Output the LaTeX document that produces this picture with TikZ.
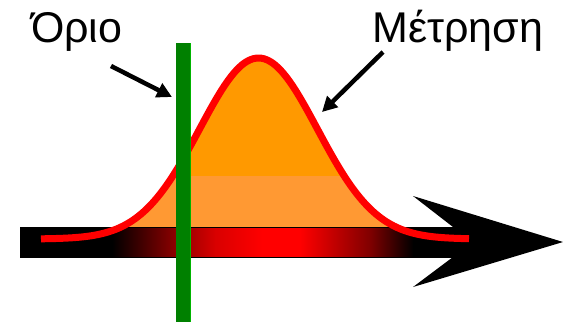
\documentclass[tikz,border=0pt]{standalone}
\usepackage{fontspec}
\setmainfont{Liberation Sans}
\usetikzlibrary{arrows.meta}
\definecolor{orangeHi}{RGB}{255,153,0}
\definecolor{orangeLo}{RGB}{255,153,51}
\definecolor{barGreen}{RGB}{0,128,0}
\tikzset{
  lbl/.style={font=\fontsize{43}{50}\selectfont, inner sep=0pt, anchor=base west},
  pointer/.style={line width=4.5pt, -{Triangle[length=15pt,width=15pt]}},
  gausscurve/.style={red, line width=7pt, line join=round},
  seg/.style={draw=none}
}
\newcommand{\gausspath}{plot[domain=41:469, samples=120, smooth] (\x, {239-181*exp(-((\x-258.5)/59)^2/2)})}
\begin{document}
\begin{tikzpicture}[x=1pt, y=-1pt]
\useasboundingbox (0,0) rectangle (563,322);
% orange fill under curve
\begin{scope}
  \clip (0,0) rectangle (563,227);
  \fill[orangeLo] \gausspath -- cycle;
  \clip (0,0) rectangle (563,175);
  \fill[orangeHi] \gausspath -- cycle;
\end{scope}
% shaft with shading
\fill[black] (20,227) rectangle (112.3,257);
\shade[seg, left color=black, right color=red!55!black] (112,227) rectangle (175.3,257);
\shade[seg, left color=red!55!black, right color=red!85!black] (175,227) rectangle (215.3,257);
\shade[seg, left color=red!85!black, right color=red] (215,227) rectangle (262.3,257);
\fill[red] (262,227) rectangle (300.3,257);
\shade[seg, left color=red, right color=red!50!black] (300,227) rectangle (370.3,257);
\shade[seg, left color=red!50!black, right color=black] (370,227) rectangle (413.3,257);
\fill[black] (413,227) rectangle (453,257);
\draw[black, line width=0.8pt] (20,227) rectangle (453,257);
% arrow head
\fill[black] (413,196) -- (563,242) -- (413,287) -- (453,257) -- (453,227) -- cycle;
% gaussian curve
\draw[gausscurve] \gausspath;
% threshold bar
\fill[barGreen] (176,43) rectangle (191,322);
\draw[green!40!barGreen, line width=0.8pt] (190.6,43) -- (190.6,322);
% labels
\node[lbl] (orio) at (31,42) {Όριο};
\node[lbl] (metr) at (372,42) {Μέτρηση};
\coordinate (orioTail) at (111,66);
\coordinate (orioTip) at (172,97);
\coordinate (metrTail) at (383,52);
\coordinate (metrTip) at (322,112);
\draw[pointer] (orioTail) -- (orioTip);
\draw[pointer] (metrTail) -- (metrTip);
\end{tikzpicture}
\end{document}
